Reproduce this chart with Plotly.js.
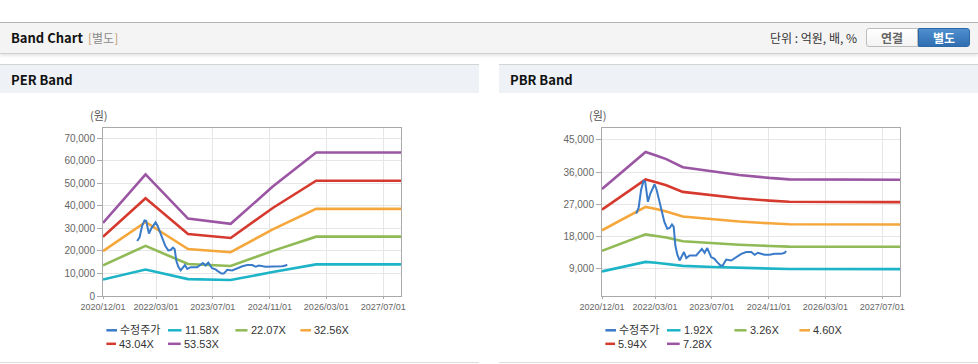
<!DOCTYPE html>
<html>
<head>
<meta charset="utf-8">
<script src="https://cdn.plot.ly/plotly-3.0.1.min.js"></script>
<style>
  html, body { margin:0; padding:0; }
  body { width:978px; height:364px; overflow:hidden; background:#fff; position:relative;
         font-family:"Noto Sans CJK KR", "Noto Sans", sans-serif; }
  #topbar { position:absolute; left:0; top:22px; width:978px; height:30px; background:#f4f4f4;
            border-top:1px solid #b3b3b3; border-bottom:1px solid #d0d0d0;
            box-shadow:0 2px 3px rgba(0,0,0,0.10); }
  #topbar .ttl { position:absolute; left:11px; top:0; line-height:30px; font-size:13px; font-weight:bold; color:#111; }
  #topbar .sub { position:absolute; left:88px; top:0; line-height:30px; font-size:12px; color:#8a8a8a; }
  #topbar .sub b { font-weight:normal; color:#c49a6c; }
  #topbar .unit { position:absolute; left:770px; top:0; line-height:30px; font-size:12px; color:#333; }
  .btn { position:absolute; top:5px; height:17px; line-height:17px; width:50px; text-align:center;
         font-size:12px; font-weight:bold; box-sizing:content-box; }
  #b1 { left:866px; background:linear-gradient(#ffffff,#f3f3f3); border:1px solid #bdbdbd;
        border-radius:3px 0 0 3px; color:#666; }
  #b2 { left:918px; background:linear-gradient(#4f8fcf,#2f6eb1); border:1px solid #2e68a6;
        border-radius:0 3px 3px 0; color:#fff; }
  .phead { position:absolute; top:64px; height:28px; background:#eef2f7; border-top:1px solid #d3d3d3; }
  .phead span { position:absolute; left:11px; top:0; line-height:29px; font-size:13px; font-weight:bold; color:#111; }
  .pbot { position:absolute; top:362px; height:1px; background:#dcdcdc; }
  .chart { position:absolute; top:93px; width:479px; height:271px; }
</style>
</head>
<body>
<div id="topbar">
  <div class="ttl">Band Chart</div>
  <div class="sub"><b>[</b>별도<b>]</b></div>
  <div class="unit">단위 : 억원, 배, %</div>
  <div class="btn" id="b1">연결</div>
  <div class="btn" id="b2">별도</div>
</div>
<div class="phead" style="left:0;width:479px;"><span>PER Band</span></div>
<div class="phead" style="left:499px;width:479px;"><span>PBR Band</span></div>
<div class="pbot" style="left:0;width:479px;"></div>
<div class="pbot" style="left:499px;width:479px;"></div>
<div class="chart" id="per" style="left:0;"></div>
<div class="chart" id="pbr" style="left:499px;"></div>

<script>
// ---------- data ----------
const xTickVals = ['2020-12-01','2022-03-01','2023-07-01','2024-11-01','2026-03-01','2027-07-01'];
const xRange = ['2020-12-01','2027-12-01'];

const priceDates = ['2021-09-20','2021-10-11','2021-11-01','2021-11-22','2021-12-06','2021-12-30','2022-01-20',
  '2022-02-25','2022-03-15','2022-04-08','2022-04-28','2022-05-20','2022-06-14','2022-07-04','2022-07-24',
  '2022-08-08','2022-08-22','2022-09-08','2022-09-28','2022-10-18','2022-11-04','2022-11-24','2022-12-23',
  '2023-02-17','2023-03-17','2023-04-07','2023-04-30','2023-05-23','2023-06-25','2023-07-24','2023-08-16',
  '2023-09-13','2023-10-03','2023-11-01','2023-12-14','2024-01-11','2024-03-10','2024-04-21','2024-06-03',
  '2024-07-02','2024-07-30','2024-09-25','2024-11-07','2024-12-20','2025-02-15','2025-03-16','2025-03-30'];
const priceValues = [24400,26000,31000,33500,33300,27700,30000,
  32600,31000,27700,24900,22100,20200,20400,21400,
  20700,15600,12950,11350,12750,13700,12000,12750,
  12750,13700,14600,13500,14800,12300,11800,10900,
  9950,9950,11600,11350,12000,13200,13700,13700,
  12950,13500,12950,12950,13200,13200,13500,13950];

const perDates = ['2020-12-01','2021-12-01','2022-11-30','2023-06-15','2023-12-01','2024-11-26','2025-12-03','2027-12-01'];
const per1158 = [7300, 11700, 7500, 7300, 7100, 10600, 14000, 14000];
const per2207 = [13600, 22200, 14200, 13700, 13300, 20000, 26300, 26300];
const per3256 = [19900, 32800, 20800, 20100, 19400, 29500, 38600, 38600];
const per4304 = [26200, 43300, 27500, 26600, 25700, 39000, 51100, 51100];
const per5353 = [32400, 53900, 34300, 33100, 32000, 48500, 63600, 63600];
const perLabels = ['수정주가','11.58X','22.07X','32.56X','43.04X','53.53X'];
const perYTicks = [0,10000,20000,30000,40000,50000,60000,70000];
const perYRange = [0, 74450];

const pbrDates = ['2020-12-01','2021-12-10','2022-03-10','2022-06-05','2022-10-25','2023-07-10','2024-02-20','2024-11-05','2025-04-25','2027-12-01'];
const pbr192 = [8300, 10960, 10710, 10450, 9850, 9520, 9270, 9060, 8960, 8930];
const pbr326 = [14050, 18620, 18190, 17730, 16720, 16170, 15750, 15390, 15210, 15160];
const pbr460 = [19780, 26270, 25670, 25020, 23600, 22820, 22220, 21710, 21460, 21390];
const pbr594 = [25540, 33920, 33150, 32310, 30470, 29460, 28690, 28040, 27710, 27620];
const pbr728 = [31300, 41570, 40620, 39600, 37350, 36110, 35160, 34360, 33960, 33850];
const pbrLabels = ['수정주가','1.92X','3.26X','4.60X','5.94X','7.28X'];
const pbrYTicks = [9000,18000,27000,36000,45000];
const pbrYRange = [1450, 48270];

const colors = ['#3a7bc9','#1db4c8','#8fba55','#f5a73b','#d6392e','#9a55a3'];

// ---------- drawing ----------
// legend slot positions (px from plot left) : [lineStart, textStart, rowOffsetBelowAxis]
const legendSlots = [[3.4,17,34.3],[65,81.5,34.3],[132.4,147.5,34.3],[197.4,211,34.3],[3.4,16,47.8],[65,80.7,47.8]];

function makeChart(divId, bandDates, bands, labels, yTicks, yRange) {
  const traces = [];
  bands.forEach((b, i) => {
    traces.push({ x: bandDates, y: b, type: 'scatter', mode: 'lines', name: labels[i+1],
      line: { color: colors[i+1], width: 2.6 }, hoverinfo: 'x+y+name' });
  });
  traces.push({ x: priceDates, y: priceValues, type: 'scatter', mode: 'lines', name: labels[0],
    line: { color: colors[0], width: 2 }, hoverinfo: 'x+y+name' });

  const shapes = [], annotations = [];
  labels.forEach((lab, i) => {
    const s = legendSlots[i];
    shapes.push({ type: 'line', xref: 'paper', yref: 'paper', xsizemode: 'pixel', ysizemode: 'pixel',
      xanchor: 0, yanchor: 0, x0: s[0], x1: s[1] - 3, y0: -s[2], y1: -s[2],
      line: { color: colors[i], width: 2.5 } });
    annotations.push({ xref: 'paper', yref: 'paper', x: 0, y: 0, xshift: s[1] - 2, yshift: -s[2],
      xanchor: 'left', yanchor: 'middle', showarrow: false, text: lab,
      font: { family: 'Liberation Sans, Noto Sans CJK KR, sans-serif', size: 11, color: '#333' } });
  });
  annotations.push({ xref: 'paper', yref: 'paper', x: 0, y: 1, xshift: -4, yshift: 3,
    xanchor: 'center', yanchor: 'bottom', showarrow: false, text: '(원)',
    font: { family: 'Noto Sans CJK KR, sans-serif', size: 11, color: '#555' } });

  const layout = {
    width: 479, height: 271,
    margin: { l: 103.3, r: 78, t: 35.3, b: 68.3, pad: 0 },
    paper_bgcolor: 'rgba(0,0,0,0)', plot_bgcolor: '#ffffff',
    showlegend: false,
    xaxis: { type: 'date', range: xRange, tickvals: xTickVals, tickformat: '%Y/%m/%d',
      showgrid: true, gridcolor: '#e6e6e6', gridwidth: 1, zeroline: false,
      showline: true, linecolor: '#aaaaaa', linewidth: 1, mirror: true,
      ticks: 'outside', ticklen: 2, tickcolor: '#aaaaaa',
      tickfont: { family: 'Liberation Sans, Arial, sans-serif', size: 9, color: '#666' } },
    yaxis: { range: yRange, tickvals: yTicks, tickformat: ',d',
      showgrid: true, gridcolor: '#e6e6e6', gridwidth: 1, zeroline: false,
      showline: true, linecolor: '#aaaaaa', linewidth: 1, mirror: true,
      ticks: 'outside', ticklen: 5, tickcolor: '#aaaaaa',
      tickfont: { family: 'Liberation Sans, Arial, sans-serif', size: 10, color: '#666' } },
    shapes: shapes, annotations: annotations
  };
  Plotly.newPlot(divId, traces, layout, { staticPlot: true, displayModeBar: false });
}

makeChart('per', perDates, [per1158, per2207, per3256, per4304, per5353], perLabels, perYTicks, perYRange);
makeChart('pbr', pbrDates, [pbr192, pbr326, pbr460, pbr594, pbr728], pbrLabels, pbrYTicks, pbrYRange);
</script>
</body>
</html>
